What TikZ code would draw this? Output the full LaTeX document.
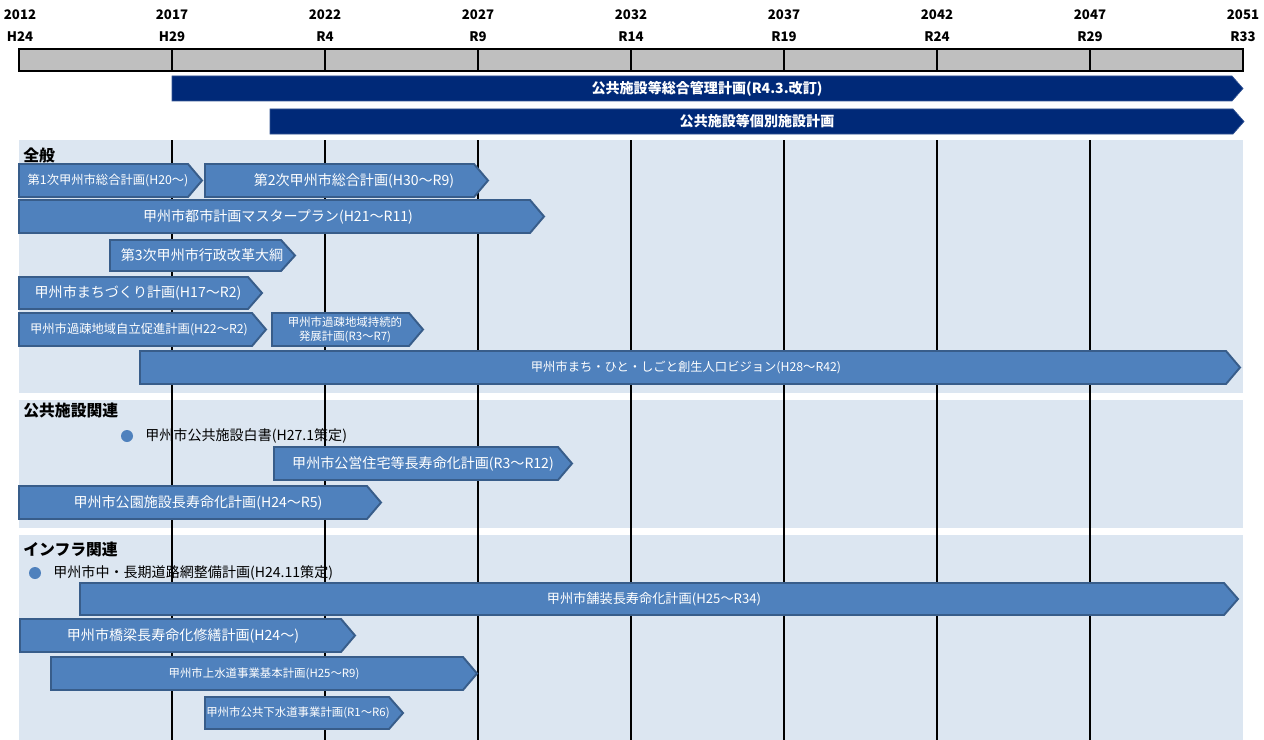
\documentclass[tikz,border=0pt]{standalone}
\usepackage{fontspec}
\setmainfont{Noto Sans CJK JP}
\usetikzlibrary{calc}

\definecolor{barGray}{RGB}{191,191,191}
\definecolor{navyPlan}{RGB}{0,41,120}
\definecolor{midBlue}{RGB}{79,129,189}
\definecolor{edgeBlue}{RGB}{56,93,138}
\definecolor{panelBlue}{RGB}{220,230,241}

\begin{document}
\begin{tikzpicture}[
    x=0.02cm, y=-0.02cm,
    every node/.style={font=\fontsize{8}{9.5}\selectfont, inner sep=0pt}
  ]

% Fix the page to the size of the reference (1 unit = 1 pixel)
\useasboundingbox (0,0) rectangle (1264,740);

% Styles for the bars and their texts
\tikzset{
  yearlabel/.style={font=\bfseries\fontsize{7.5}{9}\selectfont},
  sectionlabel/.style={anchor=west, font=\bfseries\fontsize{9}{10}\selectfont},
  navybar/.style={fill=navyPlan, draw=navyPlan!80!white, line width=0.4pt},
  navytext/.style={text=white, font=\bfseries\fontsize{8}{9.5}\selectfont},
  planbar/.style={fill=midBlue, draw=edgeBlue, line width=1.1pt, line join=miter},
  plantext/.style={text=white},
  midtext/.style={text=white, font=\fontsize{7.5}{9}\selectfont},
  smalltext/.style={text=white, font=\fontsize{7}{8.5}\selectfont},
  tinytext/.style={text=white, font=\fontsize{6.5}{8}\selectfont, align=center},
  bullettext/.style={anchor=west, text=black}
}

% Light blue panels for the three groups
\fill[panelBlue] (19,140) rectangle (1243,393);
\fill[panelBlue] (19,400) rectangle (1243,528);
\fill[panelBlue] (19,535) rectangle (1243,740);

% Year grid: one division every 5 years (153 px)
\coordinate (p0) at (19,71);
\coordinate (p1) at (172,71);
\coordinate (p2) at (325,71);
\coordinate (p3) at (478,71);
\coordinate (p4) at (631,71);
\coordinate (p5) at (784,71);
\coordinate (p6) at (937,71);
\coordinate (p7) at (1090,71);
\coordinate (p8) at (1243,71);

% Vertical lines through the panels
\draw[line width=0.9pt] (172,140) -- (172,740);
\draw[line width=0.9pt] (325,140) -- (325,740);
\draw[line width=0.9pt] (478,140) -- (478,740);
\draw[line width=0.9pt] (631,140) -- (631,740);
\draw[line width=0.9pt] (784,140) -- (784,740);
\draw[line width=0.9pt] (937,140) -- (937,740);
\draw[line width=0.9pt] (1090,140) -- (1090,740);

% Grey time bar with its divisions
\draw[fill=barGray, line width=1.2pt] ($(p0)+(0,-22)$) rectangle (p8);
\draw[line width=1pt] ($(p1)+(0,-22)$) -- (p1);
\draw[line width=1pt] ($(p2)+(0,-22)$) -- (p2);
\draw[line width=1pt] ($(p3)+(0,-22)$) -- (p3);
\draw[line width=1pt] ($(p4)+(0,-22)$) -- (p4);
\draw[line width=1pt] ($(p5)+(0,-22)$) -- (p5);
\draw[line width=1pt] ($(p6)+(0,-22)$) -- (p6);
\draw[line width=1pt] ($(p7)+(0,-22)$) -- (p7);

% Years (top row) and era names (second row)
\node[yearlabel] (y2012) at (20,15) {2012};
\node[yearlabel] (y2017) at (172,15) {2017};
\node[yearlabel] (y2022) at (325,15) {2022};
\node[yearlabel] (y2027) at (478,15) {2027};
\node[yearlabel] (y2032) at (631,15) {2032};
\node[yearlabel] (y2037) at (784,15) {2037};
\node[yearlabel] (y2042) at (937,15) {2042};
\node[yearlabel] (y2047) at (1090,15) {2047};
\node[yearlabel] (y2051) at (1243,15) {2051};
\node[yearlabel] (eH24) at (20,37) {H24};
\node[yearlabel] (eH29) at (172,37) {H29};
\node[yearlabel] (eR4) at (325,37) {R4};
\node[yearlabel] (eR9) at (478,37) {R9};
\node[yearlabel] (eR14) at (631,37) {R14};
\node[yearlabel] (eR19) at (784,37) {R19};
\node[yearlabel] (eR24) at (937,37) {R24};
\node[yearlabel] (eR29) at (1090,37) {R29};
\node[yearlabel] (eR33) at (1243,37) {R33};

% Overall plans (navy bars)
\draw[navybar] (172,76) -- (1232,76) -- (1243,88.5) -- (1232,101) -- (172,101) -- cycle;
\node[navytext] (kanri) at (707,88.5) {公共施設等総合管理計画(R4.3.改訂)};
\draw[navybar] (270,109) -- (1233,109) -- (1244,121.5) -- (1233,134) -- (270,134) -- cycle;
\node[navytext] (kobetsu) at (757,121.5) {公共施設等個別施設計画};

% ---- General group ----
\node[sectionlabel] (secAll) at (23,155) {全般};

\draw[planbar] (19,164) -- (188,164) -- (202,180.5) -- (188,197) -- (19,197) -- cycle;
\node[smalltext] (sogo1) at (108,180.5) {第1次甲州市総合計画(H20～)};

\draw[planbar] (205,164) -- (474,164) -- (488,180.5) -- (474,197) -- (205,197) -- cycle;
\node[plantext] (sogo2) at (354,180.5) {第2次甲州市総合計画(H30～R9)};

\draw[planbar] (19,200) -- (530,200) -- (544,216.5) -- (530,233) -- (19,233) -- cycle;
\node[plantext] (toshimp) at (278,216.5) {甲州市都市計画マスタープラン(H21～R11)};

\draw[planbar] (110,240) -- (281,240) -- (295,255.5) -- (281,271) -- (110,271) -- cycle;
\node[plantext] (gyokaku) at (202,255.5) {第3次甲州市行政改革大綱};

\draw[planbar] (19,277) -- (248,277) -- (262,293) -- (248,309) -- (19,309) -- cycle;
\node[plantext] (machizukuri) at (138,293) {甲州市まちづくり計画(H17～R2)};

\draw[planbar] (19,313) -- (252,313) -- (266,329.5) -- (252,346) -- (19,346) -- cycle;
\node[smalltext] (kaso1) at (139,329.5) {甲州市過疎地域自立促進計画(H22～R2)};

\draw[planbar] (272,313) -- (409,313) -- (423,329.5) -- (409,346) -- (272,346) -- cycle;
\node[tinytext] (kaso2) at (345,329.5) {甲州市過疎地域持続的\\発展計画(R3～R7)};

\draw[planbar] (140,351) -- (1226,351) -- (1240,367.5) -- (1226,384) -- (140,384) -- cycle;
\node[smalltext] (sosei) at (686,367.5) {甲州市まち・ひと・しごと創生人口ビジョン(H28～R42)};

% ---- Public facilities group ----
\node[sectionlabel] (secFac) at (23,411) {公共施設関連};

\fill[midBlue] (127,436) circle (6);
\node[bullettext] (hakusho) at (145,436) {甲州市公共施設白書(H27.1策定)};

\draw[planbar] (274,447) -- (558,447) -- (572,463.5) -- (558,480) -- (274,480) -- cycle;
\node[plantext] (jutaku) at (423,463.5) {甲州市公営住宅等長寿命化計画(R3～R12)};

\draw[planbar] (19,486) -- (367,486) -- (381,502.5) -- (367,519) -- (19,519) -- cycle;
\node[plantext] (koen) at (198,502.5) {甲州市公園施設長寿命化計画(H24～R5)};

% ---- Infrastructure group ----
\node[sectionlabel] (secInfra) at (23,549) {インフラ関連};

\fill[midBlue] (35,573) circle (6);
\node[bullettext] (doromo) at (53,573) {甲州市中・長期道路網整備計画(H24.11策定)};

\draw[planbar] (80,583) -- (1224,583) -- (1238,599) -- (1224,615) -- (80,615) -- cycle;
\node[midtext] (hoso) at (654,599) {甲州市舗装長寿命化計画(H25～R34)};

\draw[planbar] (20,619) -- (341,619) -- (355,635.5) -- (341,652) -- (20,652) -- cycle;
\node[plantext] (kyoryo) at (183,635.5) {甲州市橋梁長寿命化修繕計画(H24～)};

\draw[planbar] (51,657) -- (463,657) -- (477,673.5) -- (463,690) -- (51,690) -- cycle;
\node[tinytext] (josui) at (264,673.5) {甲州市上水道事業基本計画(H25～R9)};

\draw[planbar] (205,697) -- (389,697) -- (403,713) -- (389,729) -- (205,729) -- cycle;
\node[tinytext] (gesui) at (298,713) {甲州市公共下水道事業計画(R1～R6)};

\end{tikzpicture}
\end{document}
